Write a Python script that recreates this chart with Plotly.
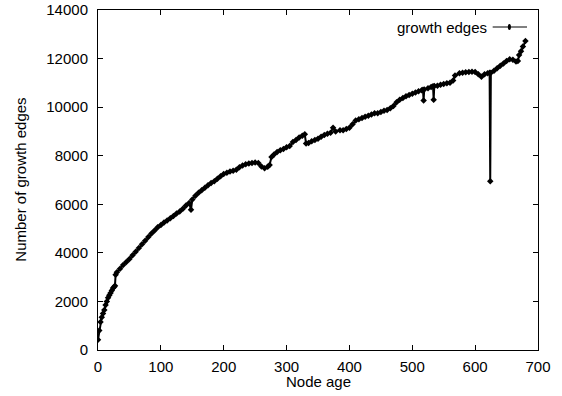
import plotly.graph_objects as go

# Node age (x) and number of growth edges (y)
node_age = [0, 2, 4, 6, 8, 10, 12, 14, 16, 18, 20, 22, 24, 26, 27, 28, 30, 35, 40, 45,
            50, 55, 60, 65, 70, 75, 80, 85, 90, 95, 100, 105, 110, 115, 120, 125, 130,
            135, 140, 145, 148, 150, 155, 160, 165, 170, 175, 180, 185, 190, 195, 200,
            205, 210, 215, 220, 225, 230, 235, 240, 245, 250, 255, 260, 265, 270, 273,
            276, 280, 285, 290, 295, 300, 305, 310, 315, 320, 325, 329, 331, 335, 340,
            345, 350, 355, 360, 365, 370, 374, 378, 385, 390, 395, 400, 405, 410, 415,
            420, 425, 430, 435, 440, 445, 450, 455, 460, 465, 470, 475, 480, 485, 490,
            495, 500, 505, 510, 515, 517, 518, 519, 525, 530, 533, 534, 535, 540, 545,
            550, 555, 560, 565, 568, 575, 580, 585, 590, 595, 600, 605, 610, 615, 620,
            623, 624, 625, 630, 635, 640, 645, 650, 655, 660, 665, 668, 670, 673, 676,
            680]
growth_edges = [420, 800, 1150, 1350, 1500, 1650, 1850, 2000, 2150, 2250, 2350, 2450, 2550,
                2600, 2650, 3100, 3200, 3350, 3500, 3620, 3750, 3900, 4050, 4200, 4350,
                4500, 4650, 4800, 4920, 5050, 5150, 5250, 5330, 5420, 5520, 5620, 5700,
                5820, 5950, 6050, 5780, 6200, 6350, 6480, 6580, 6680, 6780, 6880, 6950,
                7050, 7150, 7250, 7300, 7350, 7380, 7420, 7520, 7600, 7650, 7680, 7700,
                7720, 7700, 7560, 7480, 7550, 7620, 7950, 8050, 8150, 8230, 8280, 8350,
                8400, 8560, 8650, 8750, 8820, 8880, 8500, 8520, 8600, 8650, 8700, 8780,
                8850, 8900, 8950, 9150, 9000, 9050, 9050, 9100, 9150, 9300, 9450, 9500,
                9550, 9600, 9650, 9700, 9750, 9750, 9800, 9850, 9880, 9950, 10050, 10200,
                10300, 10380, 10450, 10500, 10550, 10600, 10650, 10700, 10720, 10270,
                10730, 10780, 10830, 10860, 10300, 10870, 10880, 10920, 10950, 10980,
                11000, 11100, 11300, 11400, 11420, 11440, 11450, 11460, 11450, 11350,
                11250, 11350, 11400, 11420, 6950, 11420, 11500, 11600, 11700, 11800,
                11900, 11970, 11950, 11880, 11900, 12150, 12300, 12500, 12720]

x_ticks = [0, 100, 200, 300, 400, 500, 600, 700]
y_ticks = [0, 2000, 4000, 6000, 8000, 10000, 12000, 14000]
x_tick_labels = ["0", "100", "200", "300", "400", "500", "600", "700"]
y_tick_labels = ["0", "2000", "4000", "6000", "8000", "10000", "12000", "14000"]
series_name = "growth edges"
x_title = "Node age"
y_title = "Number of growth edges"

FONT = "Liberation Sans, Arial, Helvetica, sans-serif"

fig = go.Figure()
fig.add_trace(go.Scatter(
    x=node_age, y=growth_edges, mode="lines+markers", name=series_name,
    line=dict(color="black", width=2),
    marker=dict(symbol="diamond", size=5, color="black"),
    showlegend=False,
))

axis_common = dict(
    showline=True, linecolor="black", linewidth=1, mirror="ticks",
    ticks="inside", ticklen=5, tickcolor="black", tickwidth=1,
    showgrid=False, zeroline=False, automargin=False,
    tickfont=dict(family=FONT, size=15, color="black"),
)

fig.update_xaxes(range=[0, 700], tickvals=x_ticks, ticktext=x_tick_labels,
                 ticklabelstandoff=3, **axis_common)
fig.update_yaxes(range=[0, 14000], tickvals=y_ticks, ticktext=y_tick_labels,
                 ticklabelstandoff=6, **axis_common)

# Axis titles
fig.add_annotation(x=0.5, y=-0.092, xref="paper", yref="paper", text=x_title,
                   showarrow=False, xanchor="center", yanchor="middle",
                   font=dict(family=FONT, size=15, color="black"))
fig.add_annotation(x=-0.178, y=0.5, xref="paper", yref="paper", text=y_title,
                   showarrow=False, xanchor="center", yanchor="middle", textangle=-90,
                   font=dict(family=FONT, size=15, color="black"))

# Legend drawn gnuplot-style: text on the left, sample on the right
fig.add_annotation(x=0.888, y=0.95, xref="paper", yref="paper", text=series_name,
                   showarrow=False, xanchor="right", yanchor="middle",
                   font=dict(family=FONT, size=15, color="black"))
fig.add_shape(type="line", xref="paper", yref="paper", x0=0.897, x1=0.975,
              y0=0.95, y1=0.95, line=dict(color="black", width=1))
fig.add_shape(type="circle", xref="paper", yref="paper", x0=0.9315, x1=0.9385,
              y0=0.95 - 0.009, y1=0.95 + 0.009, fillcolor="black",
              line=dict(color="black", width=0))

fig.update_layout(
    width=562, height=396,
    margin=dict(l=98, r=24, t=10, b=46),
    plot_bgcolor="white", paper_bgcolor="white",
    font=dict(family=FONT, size=15, color="black"),
)

fig.write_html("out.html", config={"displayModeBar": False},
               post_script="document.body.style.margin='0';document.body.style.overflow='hidden';")
